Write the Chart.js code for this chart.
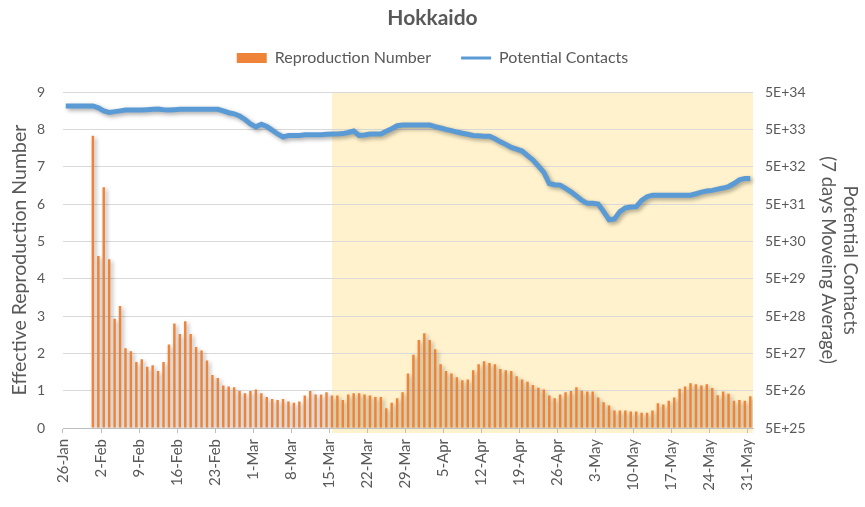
<!DOCTYPE html>
<html>
<head>
<meta charset="utf-8">
<title>Hokkaido</title>
<script src="https://cdn.jsdelivr.net/npm/chart.js@4.4.0/dist/chart.umd.min.js"></script>
<style>
  html, body { margin: 0; padding: 0; background: #fff; }
</style>
</head>
<body>
<canvas id="chart" width="865" height="507"></canvas>
<script>
// DATA ==================================================================

var monthNames = ["Jan", "Feb", "Mar", "Apr", "May"];
var firstDay = new Date(2020, 0, 26);
var dayCount = 127;
var tickStep = 7;      // one label a week
var shadeFrom = 49;    // 15-Mar, start of the shaded period

// effective reproduction number, one value per day
var reproNumber = [
	null, null, null, null, null, 7.83, 4.61,
	6.45, 4.52, 2.93, 3.27, 2.14, 2.06, 1.77,
	1.84, 1.64, 1.68, 1.53, 1.77, 2.24, 2.80,
	2.52, 2.86, 2.52, 2.17, 2.08, 1.81, 1.42,
	1.34, 1.14, 1.11, 1.09, 0.99, 0.93, 0.99,
	1.03, 0.93, 0.83, 0.78, 0.75, 0.78, 0.71,
	0.68, 0.71, 0.87, 0.99, 0.90, 0.90, 0.96,
	0.87, 0.87, 0.75, 0.90, 0.93, 0.93, 0.90,
	0.87, 0.83, 0.83, 0.53, 0.68, 0.80, 0.96,
	1.46, 1.96, 2.36, 2.54, 2.36, 2.11, 1.71,
	1.53, 1.46, 1.36, 1.28, 1.30, 1.55, 1.71,
	1.79, 1.74, 1.71, 1.58, 1.55, 1.53, 1.39,
	1.30, 1.24, 1.15, 1.08, 1.03, 0.87, 0.80,
	0.90, 0.96, 0.99, 1.09, 1.00, 0.98, 0.98,
	0.82, 0.69, 0.60, 0.47, 0.47, 0.47, 0.44,
	0.44, 0.41, 0.41, 0.47, 0.66, 0.63, 0.73,
	0.82, 1.05, 1.11, 1.20, 1.17, 1.14, 1.17,
	1.07, 0.88, 0.98, 0.92, 0.73, 0.75, 0.73,
	0.85
];

// potential contacts (7 days moving average), one value per day
var contacts = [
	2.14e34, 2.14e34, 2.14e34, 2.14e34, 2.14e34, 2.14e34, 1.91e34,
	1.58e34, 1.44e34, 1.51e34, 1.58e34, 1.66e34, 1.66e34, 1.66e34,
	1.66e34, 1.70e34, 1.74e34, 1.78e34, 1.70e34, 1.66e34, 1.70e34,
	1.74e34, 1.74e34, 1.74e34, 1.74e34, 1.74e34, 1.74e34, 1.74e34,
	1.74e34, 1.58e34, 1.41e34, 1.32e34, 1.15e34, 9.3e33, 7.1e33,
	5.9e33, 6.9e33, 6.0e33, 4.8e33, 3.8e33, 3.16e33, 3.47e33,
	3.47e33, 3.47e33, 3.63e33, 3.63e33, 3.63e33, 3.63e33, 3.72e33,
	3.8e33, 3.8e33, 3.89e33, 4.17e33, 4.57e33, 3.47e33, 3.55e33,
	3.8e33, 3.8e33, 3.8e33, 4.47e33, 5.25e33, 6.31e33, 6.61e33,
	6.61e33, 6.61e33, 6.61e33, 6.61e33, 6.61e33, 6.0e33, 5.5e33,
	5.0e33, 4.68e33, 4.27e33, 3.98e33, 3.72e33, 3.47e33, 3.39e33,
	3.31e33, 3.31e33, 2.82e33, 2.34e33, 2.0e33, 1.66e33, 1.48e33,
	1.32e33, 1.0e33, 7.6e32, 5.25e32, 3.55e32, 1.78e32, 1.66e32,
	1.62e32, 1.32e32, 1.07e32, 8.3e31, 6.3e31, 5.25e31, 5.25e31,
	5.0e31, 3.16e31, 1.91e31, 2.0e31, 3.16e31, 3.98e31, 4.17e31,
	4.27e31, 6.3e31, 7.9e31, 8.7e31, 8.7e31, 8.7e31, 8.7e31,
	8.7e31, 8.7e31, 8.7e31, 8.7e31, 9.5e31, 1.05e32, 1.12e32,
	1.17e32, 1.26e32, 1.35e32, 1.48e32, 1.78e32, 2.24e32, 2.45e32,
	2.45e32
];

// right axis ticks
var contactTicks = [5e25, 5e26, 5e27, 5e28, 5e29, 5e30, 5e31, 5e32, 5e33, 5e34];

// day labels, 26-Jan ... 31-May
var days = [];
for (var i = 0; i < dayCount; i++) {
	var d = new Date(firstDay.getFullYear(), firstDay.getMonth(), firstDay.getDate() + i);
	days.push(d.getDate() + "-" + monthNames[d.getMonth()]);
}

// STYLE =================================================================

var barColor = "#EF8438";
var lineColor = "#5B9BD5";
var textColor = "#595959";

Chart.defaults.font.family = "Lato, 'Open Sans', sans-serif";
Chart.defaults.color = textColor;

// yellow background from 15-Mar on
var shadePlugin = {
	id: "shade",
	beforeDraw: function (chart) {
		var ctx = chart.ctx;
		var area = chart.chartArea;
		var left = chart.scales.x.getPixelForValue(shadeFrom);
		ctx.save();
		ctx.fillStyle = "#FFF2CC";
		ctx.fillRect(left, area.top, area.right - left, area.bottom - area.top + 5);
		ctx.restore();
	}
};

// soft drop shadow under bars and line
var shadowPlugin = {
	id: "shadow",
	beforeDatasetDraw: function (chart) {
		var ctx = chart.ctx;
		ctx.save();
		ctx.shadowColor = "rgba(0,0,0,0.35)";
		ctx.shadowBlur = 4;
		ctx.shadowOffsetX = 2;
		ctx.shadowOffsetY = 2;
	},
	afterDatasetDraw: function (chart) {
		chart.ctx.restore();
	}
};

// CHART =================================================================

var chart = new Chart(document.getElementById("chart"), {
	data: {
		labels: days,
		datasets: [
			{
				type: "bar",
				label: "Reproduction Number",
				data: reproNumber,
				backgroundColor: barColor,
				borderWidth: 0,
				barPercentage: 0.45,
				categoryPercentage: 1,
				yAxisID: "y",
				order: 1
			},
			{
				type: "line",
				label: "Potential Contacts",
				data: contacts,
				borderColor: lineColor,
				backgroundColor: lineColor,
				borderWidth: 5,
				pointRadius: 0,
				tension: 0,
				yAxisID: "y2",
				order: 0
			}
		]
	},
	options: {
		responsive: false,
		animation: false,
		layout: { padding: 0 },
		plugins: {
			title: {
				display: true,
				text: "Hokkaido",
				color: textColor,
				font: { size: 21, weight: "bold" },
				padding: { top: 5.4, bottom: -10.6 }
			},
			subtitle: {
				display: true,
				text: "",
				weight: 500,
				font: { size: 1 },
				padding: { top: 0, bottom: 15 }
			},
			legend: {
				position: "top",
				labels: {
					usePointStyle: true,
					pointStyleWidth: 30,
					boxHeight: 10,
					padding: 30,
					color: textColor,
					font: { size: 16 },
					sort: function (a, b) { return a.datasetIndex - b.datasetIndex; },
					generateLabels: function (chart) {
						var items = Chart.defaults.plugins.legend.labels.generateLabels(chart);
						items.forEach(function (it) {
							if (it.datasetIndex === 0) {
								it.pointStyle = "rect";
								it.lineWidth = 0;
							} else {
								it.pointStyle = "line";
								it.lineWidth = 3;
								it.strokeStyle = lineColor;
							}
						});
						return items;
					}
				}
			},
			tooltip: { enabled: false }
		},
		scales: {
			x: {
				type: "category",
				offset: true,
				afterFit: function (s) { s.height = 79; },
				border: { color: "#BFBFBF" },
				grid: {
					offset: true,
					drawOnChartArea: false,
					tickLength: 5,
					color: function (c) {
						return c.index % tickStep === 0 ? "#BFBFBF" : "rgba(0,0,0,0)";
					}
				},
				ticks: {
					autoSkip: false,
					maxRotation: 90,
					minRotation: 90,
					padding: 6,
					labelOffset: -2.7,
					font: { size: 15 },
					callback: function (v, i) {
						return i % tickStep === 0 ? this.getLabelForValue(v) : "";
					}
				}
			},
			y: {
				position: "left",
				min: 0,
				max: 9,
				afterFit: function (s) { s.width = 63; },
				border: { display: false },
				grid: { color: "#D9D9D9", drawTicks: false },
				ticks: { stepSize: 1, padding: 18, font: { size: 14 } },
				title: {
					display: true,
					text: "Effective Reproduction Number",
					color: textColor,
					font: { size: 19.5 },
					padding: { top: 8, bottom: 0 }
				}
			},
			y2: {
				type: "logarithmic",
				position: "right",
				min: 5e25,
				max: 5e34,
				afterFit: function (s) { s.width = 112; },
				afterBuildTicks: function (s) {
					s.ticks = contactTicks.map(function (v) { return { value: v }; });
				},
				border: { display: false },
				grid: { drawOnChartArea: false, drawTicks: false },
				ticks: {
					padding: 12,
					font: { size: 14 },
					callback: function (v) {
						return "5E+" + Math.round(Math.log10(v / 5));
					}
				},
				title: {
					display: true,
					text: ["Potential Contacts", "(7 days Moveing Average)"],
					color: textColor,
					font: { size: 18.5 },
					padding: { top: 4, bottom: 0 }
				}
			}
		}
	},
	plugins: [shadePlugin, shadowPlugin]
});
</script>
</body>
</html>
